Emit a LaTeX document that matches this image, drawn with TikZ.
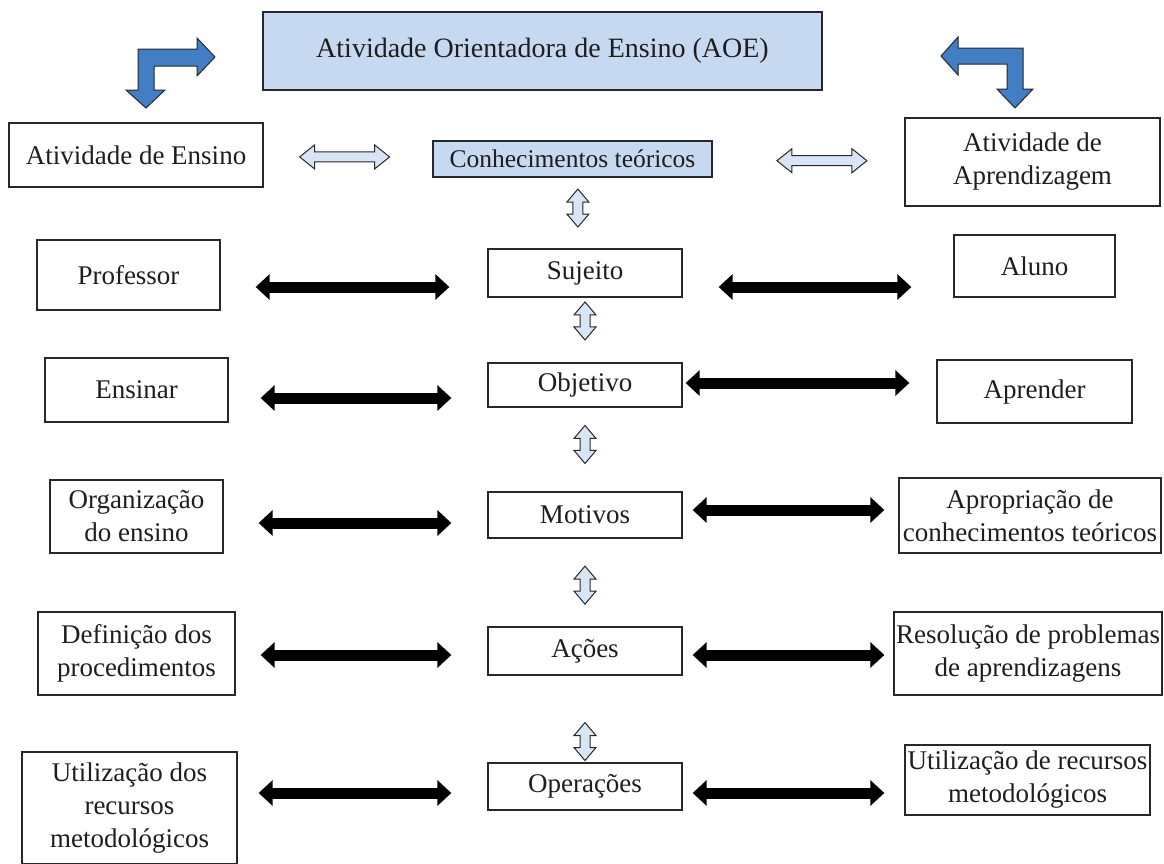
\documentclass[tikz,border=0pt]{standalone}
\usepackage{fontspec}
\setmainfont{Liberation Serif}
\newfontfamily\diagfont{Liberation Serif}
\usetikzlibrary{arrows.meta,calc}
\definecolor{paleblue}{RGB}{198,217,241}
\definecolor{hollowblue}{RGB}{216,229,245}
\definecolor{bendblue}{RGB}{66,126,196}
\definecolor{ink}{RGB}{30,30,30}
\definecolor{edge}{RGB}{40,40,40}

\begin{document}
\begin{tikzpicture}[x=1pt,y=-1pt,
  box/.style={draw=edge, line width=1.3pt, text=ink, align=center, inner sep=0pt,
              font=\diagfont\fontsize{27}{33}\selectfont},
  bluebox/.style={box, fill=paleblue},
  blk/.style={line width=11pt,
              {Triangle[width=25pt,length=14pt]}-{Triangle[width=25pt,length=14pt]}},
  hollowh/.pic={
    \draw[edge, line width=1pt, fill=hollowblue, line join=miter]
      (-45,0) -- (-30,-12) -- (-30,-5) -- (30,-5) -- (30,-12) -- (45,0)
      -- (30,12) -- (30,5) -- (-30,5) -- (-30,12) -- cycle;},
  hollowv/.pic={
    \draw[edge, line width=1pt, fill=hollowblue, line join=miter]
      (0,-19) -- (11,-6) -- (5,-6) -- (5,6) -- (11,6) -- (0,19)
      -- (-11,6) -- (-5,6) -- (-5,-6) -- (-11,-6) -- cycle;},
  bent/.style={draw=edge, line width=1pt, fill=bendblue, line join=miter}
]
\useasboundingbox (0,0) rectangle (1164,863);

% title and the two bent arrows
\node[bluebox, minimum width=559, minimum height=78, font=\diagfont\fontsize{28}{33}\selectfont]
  (aoe) at (542.5,51) {Atividade Orientadora de Ensino (AOE)};
\path[bent] (138,49) -- (197,49) -- (197,38) -- (215,57) -- (197,76) -- (197,66)
  -- (154,66) -- (154,90) -- (165,90) -- (146,108) -- (126,90) -- (138,90) -- cycle;
\path[bent] (1023,48) -- (958,48) -- (958,37) -- (941,56) -- (958,75) -- (958,64)
  -- (1007,64) -- (1007,89) -- (997,89) -- (1015,108) -- (1033,89) -- (1023,89) -- cycle;

% second row
\node[box, minimum width=254, minimum height=64] (ens) at (136,155) {Atividade de Ensino};
\node[bluebox, minimum width=279, minimum height=36, font=\diagfont\fontsize{25.5}{30}\selectfont]
  (conh) at (572.5,159) {Conhecimentos teóricos};
\node[box, minimum width=255, minimum height=88] (apr) at (1032.5,162) {Atividade de\\Aprendizagem};

% left column
\node[box, minimum width=183, minimum height=70] (prof) at (128.5,275) {Professor};
\node[box, minimum width=183, minimum height=64] (ensinar) at (136.5,390) {Ensinar};
\node[box, minimum width=173, minimum height=73] (org) at (136.5,516.5) {Organização\\do ensino};
\node[box, minimum width=197, minimum height=83] (def) at (136.5,653.5) {Definição dos\\procedimentos};
\node[box, minimum width=215, minimum height=112] (util1) at (129.5,808) {Utilização dos\\recursos\\metodológicos};

% central column
\node[box, minimum width=194, minimum height=48] (suj) at (585,273) {Sujeito};
\node[box, minimum width=194, minimum height=44] (obj) at (585,385) {Objetivo};
\node[box, minimum width=194, minimum height=46] (mot) at (585,515) {Motivos};
\node[box, minimum width=194, minimum height=48] (acoes) at (585,651) {Ações};
\node[box, minimum width=194, minimum height=47] (oper) at (585,786.5) {Operações};

% right column
\node[box, minimum width=161, minimum height=62] (aluno) at (1034.5,266) {Aluno};
\node[box, minimum width=195, minimum height=63] (aprender) at (1034.5,391.5) {Aprender};
\node[box, minimum width=262, minimum height=75] (aprop) at (1030,515.5) {Apropriação de\\conhecimentos teóricos};
\node[box, minimum width=268, minimum height=83] (res) at (1028,653.5) {Resolução de problemas\\de aprendizagens};
\node[box, minimum width=245, minimum height=70] (util2) at (1027.5,780) {Utilização de recursos\\metodológicos};

% hollow arrows around the theoretical knowledge box
\pic at ($(ens.east)!0.48!(conh.west)$) {hollowh};
\pic at ($(conh.east)!0.57!(apr.west)$) {hollowh};
\pic at ($(conh.south)!0.43!(suj.north)$) {hollowv};
\pic at ($(suj.south)!0.36!(obj.north)$) {hollowv};
\pic at ($(obj.south)!0.44!(mot.north)$) {hollowv};
\pic at ($(mot.south)!0.53!(acoes.north)$) {hollowv};
\pic at ($(acoes.south)!0.76!(oper.north)$) {hollowv};

% heights of the black connectors
\coordinate (r1) at (0,287);
\coordinate (r2l) at (0,398);
\coordinate (r2r) at (0,383);
\coordinate (r3l) at (0,523);
\coordinate (r3r) at (0,510);
\coordinate (r4) at (0,655);
\coordinate (r5) at (0,793);

% black double arrows
\draw[blk] ([xshift=35]prof.east |- r1) -- ([xshift=-38]suj.west |- r1);
\draw[blk] ([xshift=36]suj.east |- r1) -- ([xshift=-42]aluno.west |- r1);
\draw[blk] ([xshift=32]ensinar.east |- r2l) -- ([xshift=-36]obj.west |- r2l);
\draw[blk] ([xshift=3]obj.east |- r2r) -- ([xshift=-27]aprender.west |- r2r);
\draw[blk] ([xshift=35]org.east |- r3l) -- ([xshift=-36]mot.west |- r3l);
\draw[blk] ([xshift=10]mot.east |- r3r) -- ([xshift=-14]aprop.west |- r3r);
\draw[blk] ([xshift=25]def.east |- r4) -- ([xshift=-36]acoes.west |- r4);
\draw[blk] ([xshift=10]acoes.east |- r4) -- ([xshift=-9]res.west |- r4);
\draw[blk] ([xshift=21]util1.east |- r5) -- ([xshift=-36]oper.west |- r5);
\draw[blk] ([xshift=10]oper.east |- r5) -- ([xshift=-20]util2.west |- r5);
\end{tikzpicture}
\end{document}
